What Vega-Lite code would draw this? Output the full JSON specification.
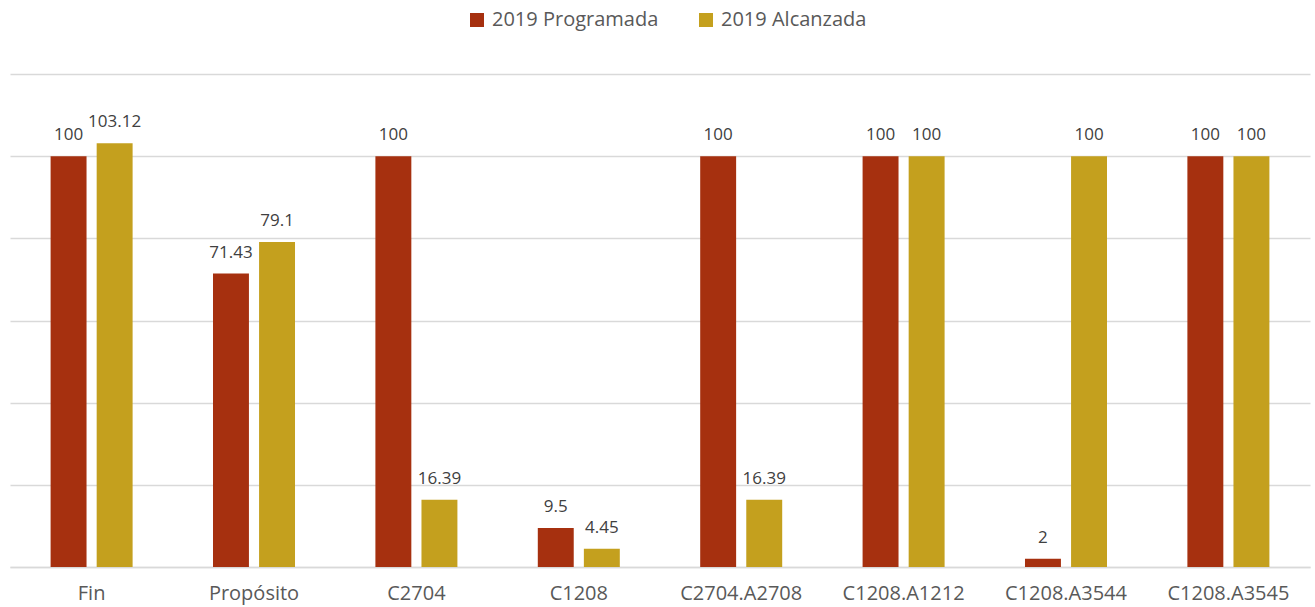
{
  "$schema": "https://vega.github.io/schema/vega-lite/v6.json",
  "width": 1300,
  "height": 493,
  "autosize": {"type": "none"},
  "padding": {"left": 10, "top": 74, "right": 5, "bottom": 40},
  "background": "white",
  "config": {
    "view": {"stroke": null},
    "font": "Open Sans"
  },
  "data": {
    "values": [
      {"categoria": "Fin", "serie": "2019 Programada", "valor": 100},
      {"categoria": "Fin", "serie": "2019 Alcanzada", "valor": 103.12},
      {"categoria": "Propósito", "serie": "2019 Programada", "valor": 71.43},
      {"categoria": "Propósito", "serie": "2019 Alcanzada", "valor": 79.1},
      {"categoria": "C2704", "serie": "2019 Programada", "valor": 100},
      {"categoria": "C2704", "serie": "2019 Alcanzada", "valor": 16.39},
      {"categoria": "C1208", "serie": "2019 Programada", "valor": 9.5},
      {"categoria": "C1208", "serie": "2019 Alcanzada", "valor": 4.45},
      {"categoria": "C2704.A2708", "serie": "2019 Programada", "valor": 100},
      {"categoria": "C2704.A2708", "serie": "2019 Alcanzada", "valor": 16.39},
      {"categoria": "C1208.A1212", "serie": "2019 Programada", "valor": 100},
      {"categoria": "C1208.A1212", "serie": "2019 Alcanzada", "valor": 100},
      {"categoria": "C1208.A3544", "serie": "2019 Programada", "valor": 2},
      {"categoria": "C1208.A3544", "serie": "2019 Alcanzada", "valor": 100},
      {"categoria": "C1208.A3545", "serie": "2019 Programada", "valor": 100},
      {"categoria": "C1208.A3545", "serie": "2019 Alcanzada", "valor": 100}
    ]
  },
  "encoding": {
    "x": {
      "field": "categoria",
      "type": "nominal",
      "sort": null,
      "scale": {"paddingInner": 0.495, "paddingOuter": 0.25},
      "axis": {
        "title": null,
        "labelAngle": 0,
        "labelFont": "Open Sans",
        "labelFontSize": 20,
        "labelColor": "#595959",
        "labelPadding": 16,
        "labelLimit": 300,
        "ticks": false,
        "domainColor": "#d9d9d9",
        "domainWidth": 1.5
      }
    },
    "xOffset": {
      "field": "serie",
      "type": "nominal",
      "sort": ["2019 Programada", "2019 Alcanzada"],
      "scale": {"paddingInner": 0.22, "paddingOuter": 0}
    },
    "y": {
      "field": "valor",
      "type": "quantitative",
      "scale": {"domain": [0, 120], "nice": false},
      "axis": {
        "title": null,
        "labels": false,
        "ticks": false,
        "domain": false,
        "values": [0, 20, 40, 60, 80, 100, 120],
        "gridColor": "#d9d9d9",
        "gridWidth": 1.5
      }
    }
  },
  "layer": [
    {
      "mark": {"type": "bar"},
      "encoding": {
        "color": {
          "field": "serie",
          "type": "nominal",
          "sort": ["2019 Programada", "2019 Alcanzada"],
          "scale": {"domain": ["2019 Programada", "2019 Alcanzada"], "range": ["#A6300F", "#C4A01E"]},
          "legend": {
            "title": null,
            "orient": "none",
            "direction": "horizontal",
            "legendX": 457,
            "legendY": -64,
            "symbolType": "square",
            "symbolSize": 196,
            "symbolStrokeWidth": 0,
            "labelFontSize": 20,
            "labelColor": "#595959",
            "labelFont": "Open Sans",
            "labelLimit": 400,
            "columnPadding": 37,
            "labelOffset": 5
          }
        }
      }
    },
    {
      "mark": {"type": "text", "baseline": "bottom", "dy": -12, "fontSize": 17, "color": "#404040", "font": "Open Sans"},
      "encoding": {
        "text": {"field": "valor", "type": "quantitative"}
      }
    }
  ]
}
